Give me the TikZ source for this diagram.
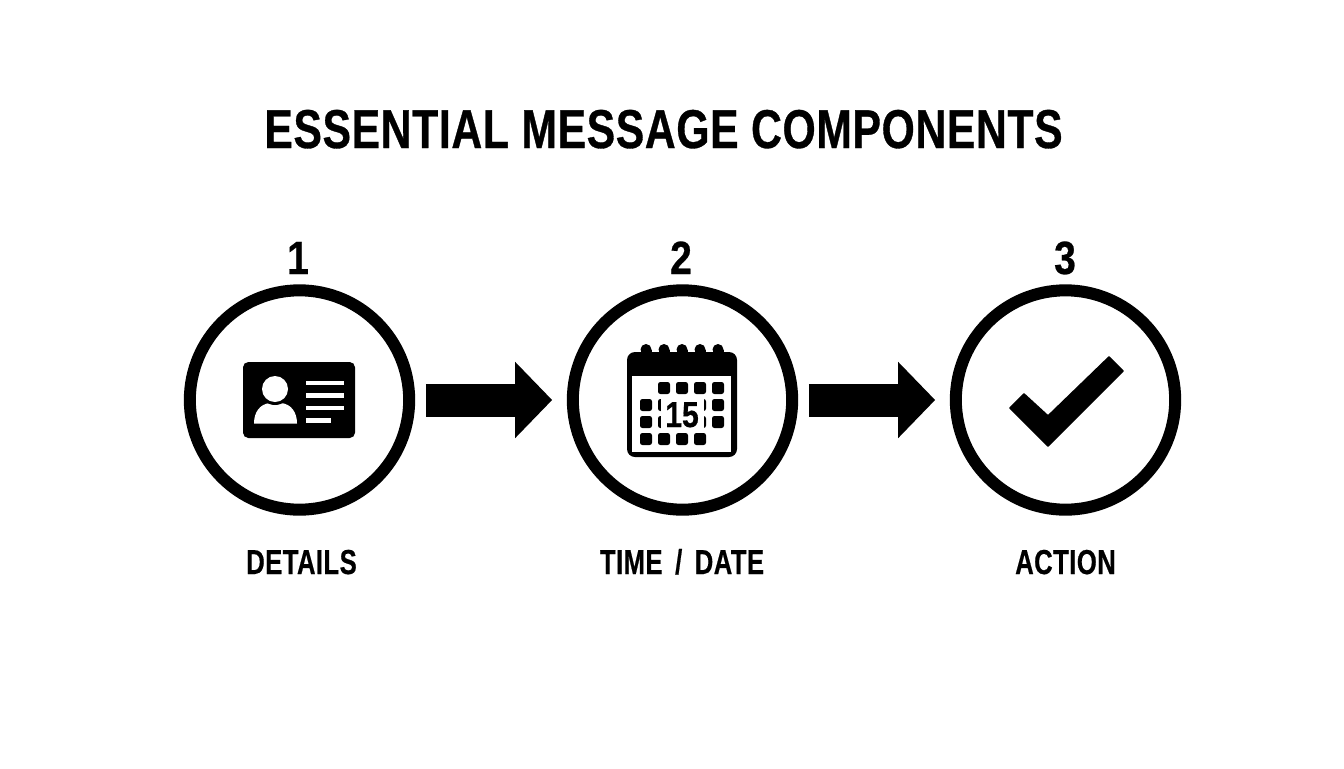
\documentclass[tikz,border=0pt]{standalone}
\usepackage{fontspec}
\setmainfont{Liberation Sans}
\newfontfamily\narrowf[FakeStretch=0.84,BoldFeatures={FakeBold=0.5}]{Liberation Sans}
\newfontfamily\titlef[FakeStretch=0.78,LetterSpace=1.2,BoldFeatures={FakeBold=0.6}]{Liberation Sans}
\newfontfamily\capf[FakeStretch=0.74,LetterSpace=1.3,WordSpace=1.65,BoldFeatures={FakeBold=0.5}]{Liberation Sans}
\usetikzlibrary{arrows.meta}
\tikzset{
  x=0.75pt,y=-0.75pt,
  ring/.style={circle,draw=black,line width=9pt,minimum size=164.5pt,inner sep=0pt},
  flow/.style={line width=24.75pt,-{Triangle[width=55.5pt,length=27.75pt]},black},
  titletext/.style={anchor=base,inner sep=0pt,font=\titlef\bfseries\fontsize{41}{41}\selectfont},
  numtext/.style={anchor=base,inner sep=0pt,font=\narrowf\bfseries\fontsize{35}{35}\selectfont},
  captext/.style={anchor=base,inner sep=0pt,font=\capf\bfseries\fontsize{26}{26}\selectfont},
  sq/.style={fill=black,rounded corners=1.8pt},
}
\newcommand{\calsq}[2]{\fill[sq] (#1-6,#2-6) rectangle (#1+6,#2+6);}
\begin{document}
\begin{tikzpicture}
\useasboundingbox[fill=white] (0,0) rectangle (1344,768);
\node[titletext] (title) at (663.5,148) {ESSENTIAL MESSAGE COMPONENTS};
\node[numtext] (n1) at (298,274) {1};
\node[numtext] (n2) at (681,274) {2};
\node[numtext] (n3) at (1065,274) {3};
\node[ring] (c1) at (299.5,400) {};
\node[ring] (c2) at (682.5,400) {};
\node[ring] (c3) at (1065.5,400) {};
\node[captext] (l1) at (301.5,574) {DETAILS};
\node[captext] (l2) at (682,574) {TIME / DATE};
\node[captext] (l3) at (1065.5,574) {ACTION};
\draw[flow] ([xshift=8pt]c1.east) -- ([xshift=-11pt]c2.west);
\draw[flow] ([xshift=8pt]c2.east) -- ([xshift=-11pt]c3.west);
% card icon
\fill[black,rounded corners=4pt] (243,362) rectangle (355,438);
\fill[white] (254,423.5) .. controls (254,412) and (260,404) .. (270,403) -- (281,403) .. controls (291,404) and (297,412) .. (297,423.5) -- cycle;
\fill[black] (275,389) circle[radius=16];
\fill[white] (275,389) circle[radius=13];
\fill[white] (306,380.5) rectangle (344,385);
\fill[white] (306,393) rectangle (344,397.6);
\fill[white] (306,405.6) rectangle (344,410.2);
\fill[white] (306,418.3) rectangle (331,423);
% calendar icon
\foreach \px in {646,664,682,700,718}{\fill[black] (\px,349.5) circle[radius=5.5];\fill[black] (\px-5.5,349.5) rectangle (\px+5.5,356);}
\fill[black,rounded corners=6pt] (627,352) rectangle (737,457);
\fill[white] (632,376) rectangle (731,452);
\foreach \px in {664,682,700,718}{\calsq{\px}{388}}
\foreach \px in {646,664,700,718}{\calsq{\px}{405}\calsq{\px}{422}}
\foreach \px in {646,664,682,700}{\calsq{\px}{439}}
\fill[white] (660.7,396) rectangle (704,431);
\node[anchor=base,inner sep=0pt,font=\narrowf\bfseries\fontsize{27}{27}\selectfont] (day) at (682,427) {15};
% check icon
\fill[black,line join=round,draw=black,line width=1.2pt] (1109,357) -- (1123,371) -- (1048,446) -- (1010,408) -- (1024,394) -- (1048,416) -- cycle;
\end{tikzpicture}
\end{document}
